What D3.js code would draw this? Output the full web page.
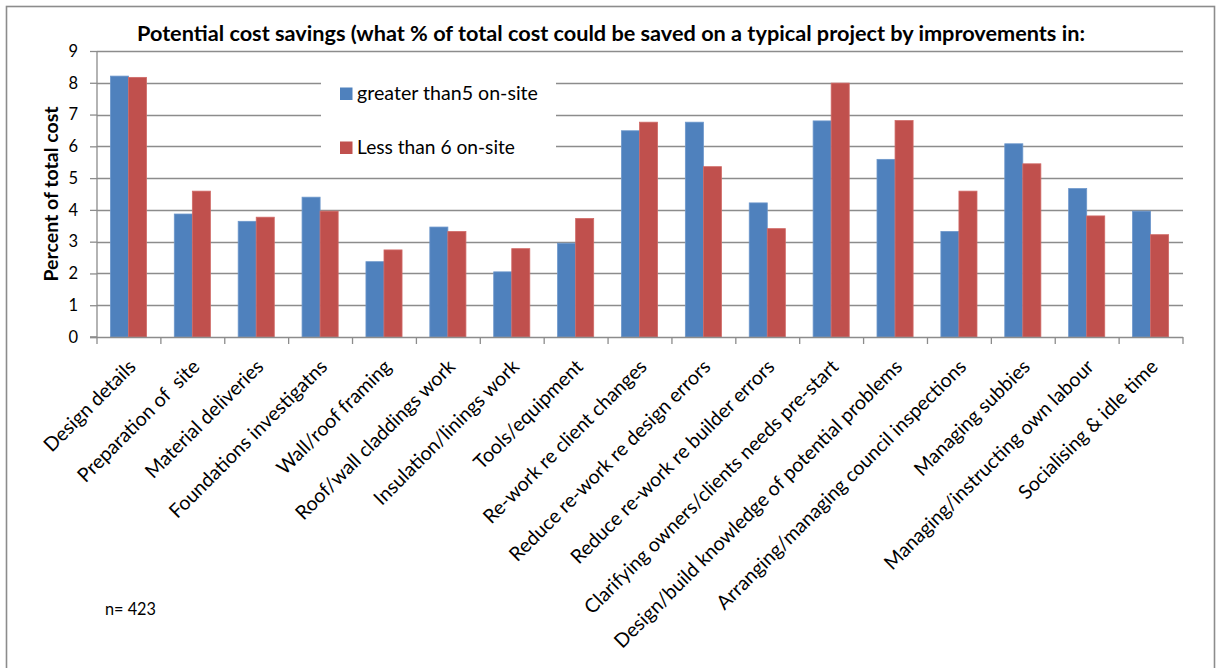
<!DOCTYPE html>
<html>
<head>
<meta charset="utf-8">
<script src="https://cdn.jsdelivr.net/npm/d3@7"></script>
<style>
  html, body { margin: 0; padding: 0; background: #fff; }
  svg { display: block; font-family: Lato, "Open Sans", sans-serif; }
  svg text { white-space: pre; }
</style>
</head>
<body>
<svg id="chart" width="1218" height="668"></svg>
<script>
// Survey categories and mean potential savings (% of total project cost)
const categories = [
  "Design details",
  "Preparation of  site",
  "Material deliveries",
  "Foundations investigatns",
  "Wall/roof framing",
  "Roof/wall claddings work",
  "Insulation/linings work",
  "Tools/equipment",
  "Re-work re client changes",
  "Reduce re-work re design errors",
  "Reduce re-work re builder errors",
  "Clarifying owners/clients needs pre-start",
  "Design/build knowledge of potential problems",
  "Arranging/managing council inspections",
  "Managing subbies",
  "Managing/instructing own labour",
  "Socialising & idle time"
];
const seriesNames = ["greater than5 on-site", "Less than 6 on-site"];
const greaterThan5 = [8.21, 3.87, 3.64, 4.40, 2.37, 3.46, 2.05, 2.95, 6.49, 6.76, 4.22, 6.80, 5.59, 3.32, 6.08, 4.67, 3.96];
const lessThan6    = [8.17, 4.59, 3.77, 3.96, 2.74, 3.32, 2.78, 3.73, 6.76, 5.36, 3.41, 7.99, 6.81, 4.59, 5.45, 3.81, 3.22];
const yTicks = [0, 1, 2, 3, 4, 5, 6, 7, 8, 9];
const seriesColors = ["#4F81BD", "#C0504D"];
const titleText = "Potential cost savings (what % of total cost could be saved on a typical project by improvements in:";
const yTitle = "Percent of total cost";
const noteText = "n= 423";

const svg = d3.select("#chart");
const plot = { left: 97, right: 1183, top: 51, bottom: 337 };
const gridColor = "#8c8c8c";

// scale text so its rendered length equals a target width
function fitWidth(sel, target) {
  const size = parseFloat(sel.attr("font-size"));
  const len = sel.node().getComputedTextLength();
  sel.attr("font-size", (size * target / len).toFixed(2));
}

// outer chart frame
svg.append("rect")
  .attr("x", 6.5).attr("y", 6.5)
  .attr("width", 1208).attr("height", 720)
  .attr("fill", "none").attr("stroke", "#8c8c8c").attr("stroke-width", 1.6);

const x = d3.scaleBand().domain(categories).range([plot.left, plot.right]).padding(0);
const bw = x.bandwidth();
const xs = d3.scaleBand().domain([0, 1]).range([bw * 0.21, bw * 0.775]).padding(0);
const y = d3.scaleLinear().domain([0, 9]).range([plot.bottom, plot.top]);

// horizontal gridlines
svg.append("g")
  .selectAll("line")
  .data(yTicks.filter(t => t > 0))
  .join("line")
  .attr("x1", plot.left).attr("x2", plot.right)
  .attr("y1", d => Math.round(y(d)) + 0.5).attr("y2", d => Math.round(y(d)) + 0.5)
  .attr("stroke", gridColor).attr("stroke-width", 1.3);

// y axis
const yAxis = svg.append("g")
  .attr("transform", `translate(${plot.left},0)`)
  .call(d3.axisLeft(y).tickValues(yTicks).tickSize(7).tickPadding(12).tickFormat(d3.format("d")));
yAxis.select(".domain").attr("stroke", gridColor).attr("stroke-width", 1.3).attr("d", `M-7,${plot.bottom}H0V${plot.top}`);
yAxis.selectAll(".tick line").attr("stroke", gridColor).attr("stroke-width", 1.3);
yAxis.selectAll(".tick text").attr("font-size", 16.5).attr("fill", "#000")
  .attr("font-family", "Lato, sans-serif");

// legend panel sits over the gridlines
const legend = svg.append("g");
legend.append("rect")
  .attr("x", 321).attr("y", 60).attr("width", 235).attr("height", 110)
  .attr("fill", "#fff");
const legendRows = [{ y: 100, w: 181 }, { y: 154, w: 158 }];
seriesNames.forEach((name, i) => {
  const row = legendRows[i];
  legend.append("rect")
    .attr("x", 340).attr("y", row.y - 12.5).attr("width", 12.5).attr("height", 12.5)
    .attr("fill", seriesColors[i]);
  const t = legend.append("text")
    .attr("x", 357).attr("y", row.y)
    .attr("font-size", 18).attr("fill", "#000")
    .text(name);
  fitWidth(t, row.w);
});

// bars
const series = [greaterThan5, lessThan6];
const groups = svg.append("g")
  .selectAll("g")
  .data(categories)
  .join("g")
  .attr("transform", d => `translate(${x(d)},0)`);
groups.selectAll("rect")
  .data((d, i) => series.map((s, k) => ({ k, v: s[i] })))
  .join("rect")
  .attr("x", d => xs(d.k))
  .attr("width", xs.bandwidth())
  .attr("y", d => y(d.v))
  .attr("height", d => y(0) - y(d.v))
  .attr("fill", d => seriesColors[d.k])
  .attr("stroke", d => d.k === 0 ? "#6d97cb" : "#d06a67")
  .attr("stroke-width", 0.8);

// x axis with ticks between categories
const xAxis = svg.append("g");
xAxis.append("line")
  .attr("x1", plot.left - 7).attr("x2", plot.right)
  .attr("y1", plot.bottom + 0.5).attr("y2", plot.bottom + 0.5)
  .attr("stroke", gridColor).attr("stroke-width", 1.3);
xAxis.selectAll("line.tick")
  .data(d3.range(categories.length + 1))
  .join("line")
  .attr("class", "tick")
  .attr("x1", i => plot.left + i * bw).attr("x2", i => plot.left + i * bw)
  .attr("y1", plot.bottom).attr("y2", plot.bottom + 7)
  .attr("stroke", gridColor).attr("stroke-width", 1.3);

// rotated category labels
const labels = xAxis.selectAll("text")
  .data(categories)
  .join("text")
  .attr("text-anchor", "end")
  .attr("font-size", 17)
  .attr("fill", "#000")
  .text(d => d);
// size all labels from the longest one
const longest = labels.filter(d => d === "Design/build knowledge of potential problems");
fitWidth(longest, 398);
const labelSize = parseFloat(longest.attr("font-size"));
labels.attr("font-size", labelSize)
  .attr("transform", d => `translate(${x(d) + bw / 2 + 8},${368}) rotate(-45)`);

// title
const title = svg.append("text")
  .attr("x", 611).attr("y", 41)
  .attr("text-anchor", "middle")
  .attr("font-weight", 700)
  .attr("font-size", 18)
  .attr("fill", "#000")
  .text(titleText);
fitWidth(title, 948);

// y axis title
const yt = svg.append("text")
  .attr("transform", `translate(58,${(plot.top + plot.bottom) / 2}) rotate(-90)`)
  .attr("text-anchor", "middle")
  .attr("font-weight", 700)
  .attr("font-size", 18)
  .attr("fill", "#000")
  .text(yTitle);
fitWidth(yt, 175);

// sample size note
const note = svg.append("text")
  .attr("x", 105).attr("y", 615)
  .attr("font-size", 16)
  .attr("fill", "#000")
  .text(noteText);
fitWidth(note, 51);
</script>
</body>
</html>
